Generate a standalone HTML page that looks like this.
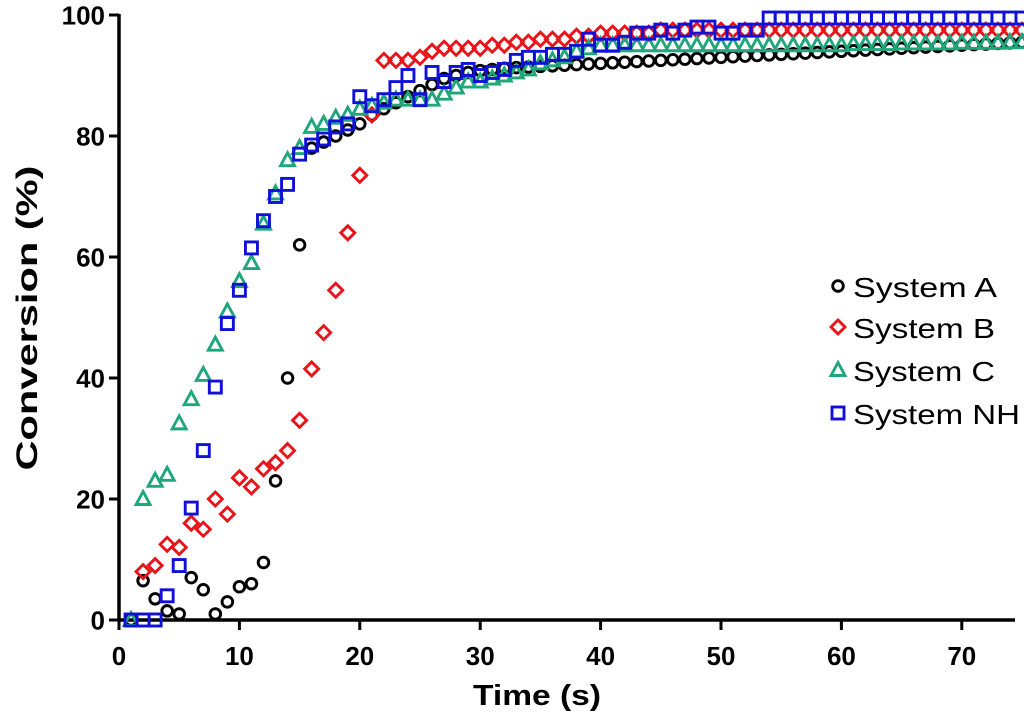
<!DOCTYPE html>
<html><head><meta charset="utf-8"><style>
body{margin:0;background:#fff;width:1024px;height:720px;overflow:hidden}
text{font-family:"Liberation Sans",Arial,sans-serif}
</style></head><body>
<svg id="chart" width="1024" height="720" viewBox="0 0 1024 720" xmlns="http://www.w3.org/2000/svg"></svg>
<script>
const xTicks=[0,10,20,30,40,50,60,70];
const yTicks=[0,20,40,60,80,100];
const seriesNames=["System A","System B","System C","System NH"];
const timesA=[1,2,3,4,5,6,7,8,9,10,11,12,13,14,15,16,17,18,19,20,21,22,23,24,25,26,27,28,29,30,31,32,33,34,35,36,37,38,39,40,41,42,43,44,45,46,47,48,49,50,51,52,53,54,55,56,57,58,59,60,61,62,63,64,65,66,67,68,69,70,71,72,73,74,75];
const valuesA=[0,6.5,3.5,1.5,1,7,5,1,3,5.5,6,9.5,23,40,62,78,79,80,81,82,83.5,84.5,85.5,86.5,87.5,88.5,89.5,90,90.5,90.8,91,91.2,91.3,91.4,91.5,91.6,91.7,91.8,91.9,92,92.1,92.2,92.3,92.4,92.5,92.6,92.7,92.8,92.9,93,93.1,93.2,93.3,93.4,93.5,93.6,93.7,93.8,93.9,94,94.1,94.2,94.3,94.4,94.5,94.6,94.7,94.8,94.9,95,95.1,95.2,95.3,95.4,95.5];
const timesB=[2,3,4,5,6,7,8,9,10,11,12,13,14,15,16,17,18,19,20,21,22,23,24,25,26,27,28,29,30,31,32,33,34,35,36,37,38,39,40,41,42,43,44,45,46,47,48,49,50,51,52,53,54,55,56,57,58,59,60,61,62,63,64,65,66,67,68,69,70,71,72,73,74,75];
const valuesB=[8,9,12.5,12,16,15,20,17.5,23.5,22,25,26,28,33,41.5,47.5,54.5,64,73.5,83.5,92.5,92.5,92.5,93,94,94.5,94.5,94.5,94.5,95,95,95.5,95.5,96,96,96,96.5,96.5,97,97,97,97,97,97.5,97.5,97.5,97.5,97.5,97.5,97.5,97.5,97.5,97.5,97.5,97.5,97.5,97.5,97.5,97.5,97.5,97.5,97.5,97.5,97.5,97.5,97.5,97.5,97.5,97.5,97.5,97.5,97.5,97.5,97.5];
const timesC=[1,2,3,4,5,6,7,8,9,10,11,12,13,14,15,16,17,18,19,20,21,22,23,24,25,26,27,28,29,30,31,32,33,34,35,36,37,38,39,40,41,42,43,44,45,46,47,48,49,50,51,52,53,54,55,56,57,58,59,60,61,62,63,64,65,66,67,68,69,70,71,72,73,74,75];
const valuesC=[0,20,23,24,32.5,36.5,40.5,45.5,51,56,59,65.5,70.5,76,78,81.5,82,83,83.5,84.5,85,85.5,86,86,86,86,87,88,89,89,89.5,90,90.5,91,92,92.5,93,94,94.5,95,95,95,95,95,95,95,95,95,95,95,95,95,95,95,95,95,95,95,95,95,95.2,95.2,95.2,95.2,95.3,95.3,95.3,95.3,95.3,95.4,95.4,95.4,95.4,95.5,95.5];
const timesNH=[1,2,3,4,5,6,7,8,9,10,11,12,13,14,15,16,17,18,19,20,21,22,23,24,25,26,27,28,29,30,31,32,33,34,35,36,37,38,39,40,41,42,43,44,45,46,47,48,49,50,51,52,53,54,55,56,57,58,59,60,61,62,63,64,65,66,67,68,69,70,71,72,73,74,75];
const valuesNH=[0,0,0,4,9,18.5,28,38.5,49,54.5,61.5,66,70,72,77,78.5,79.5,81.5,82,86.5,85,86,88,90,86,90.5,89,90.5,91,90,90.5,91,92.5,93,93,93.5,93.5,94,96,95,95,95.5,97,97,97.5,97,97.5,98,98,97,97,97.5,97.5,99.5,99.5,99.5,99.5,99.5,99.5,99.5,99.5,99.5,99.5,99.5,99.5,99.5,99.5,99.5,99.5,99.5,99.5,99.5,99.5,99.5,99.5];

const svg=document.getElementById('chart');
const NS='http://www.w3.org/2000/svg';
const X0=119,Y0=620,XS=12.04,YS=6.05;
const xs=t=>X0+t*XS, ys=v=>Y0-v*YS;
function mk(tag,attrs,parent){const e=document.createElementNS(NS,tag);for(const k in attrs)e.setAttribute(k,attrs[k]);(parent||svg).appendChild(e);return e;}

const colors=["#000","#e8141a","#1fa67a","#1010d8"];
const shapes=["circle","diamond","triangle","square"];
function marker(shape,x,y,col,parent){
  const st={fill:'none',stroke:col,'stroke-width':2.9};
  let e;
  if(shape==='circle') e=mk('circle',Object.assign({cx:x,cy:y,r:5.3},st),parent);
  else if(shape==='diamond') e=mk('polygon',Object.assign({points:`${x},${y-7} ${x+7},${y} ${x},${y+7} ${x-7},${y}`},st),parent);
  else if(shape==='triangle') e=mk('polygon',Object.assign({points:`${x},${y-7.5} ${x+7},${y+5.5} ${x-7},${y+5.5}`},st),parent);
  else e=mk('rect',Object.assign({x:x-6,y:y-6,width:12,height:12},st),parent);
  return e;
}

const ax=mk('g',{});


mk('line',{x1:X0,y1:14,x2:X0,y2:Y0+1.5,stroke:'#000','stroke-width':3.5},ax);
mk('line',{x1:X0-1.5,y1:Y0,x2:1015,y2:Y0,stroke:'#000','stroke-width':3.5},ax);
yTicks.forEach(v=>{
  mk('line',{x1:X0-10,y1:ys(v),x2:X0,y2:ys(v),stroke:'#000','stroke-width':3},ax);
  const t=mk('text',{x:X0-14,y:ys(v)+9.5,'text-anchor':'end','font-size':26,'font-weight':'bold'},ax);
  
  
  t.textContent=v;
});
xTicks.forEach(v=>{
  mk('line',{x1:xs(v),y1:Y0,x2:xs(v),y2:Y0+10,stroke:'#000','stroke-width':3},ax);
  const t=mk('text',{x:xs(v),y:665,'text-anchor':'middle','font-size':26,'font-weight':'bold'},ax);
  
  
  t.textContent=v;
});
const xt=mk('text',{x:537,y:705,'text-anchor':'middle','font-size':29,'font-weight':'bold',textLength:128,lengthAdjust:'spacingAndGlyphs'});


xt.textContent='Time (s)';
const yt=mk('text',{x:37,y:318,'text-anchor':'middle','font-size':30,'font-weight':'bold',textLength:305,lengthAdjust:'spacingAndGlyphs',transform:'rotate(-90 37 318)'});


yt.textContent='Conversion (%)';

const allT=[timesA,timesB,timesC,timesNH], allV=[valuesA,valuesB,valuesC,valuesNH];
for(let s=0;s<4;s++){
  const g=mk('g',{});
  
  
  allT[s].forEach((t,i)=>{
    const m=marker(shapes[s],xs(t),ys(allV[s][i]),colors[s],g);
    
    
  });
}
const lg=mk('g',{});


const ly=[287,328,371,414];
const lw=[144,142,142,167];
for(let s=0;s<4;s++){
  const e=mk('g',{},lg);
  
  
  marker(shapes[s],838,ly[s]-1,colors[s],e);
  const t=mk('text',{x:853,y:ly[s]+10,'font-size':28,textLength:lw[s],lengthAdjust:'spacingAndGlyphs'},e);
  t.textContent=seriesNames[s];
}
</script>
</body></html>
